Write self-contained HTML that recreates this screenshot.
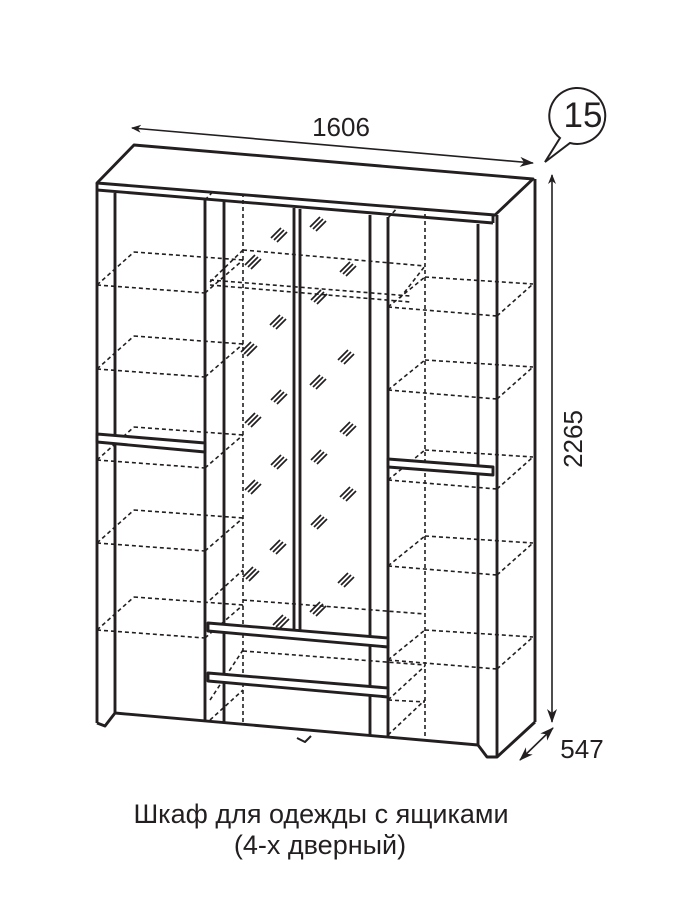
<!DOCTYPE html>
<html><head><meta charset="utf-8"><style>
html,body{margin:0;padding:0;background:#fff;}
svg{display:block;}
text{font-family:"Liberation Sans",sans-serif;fill:#231f20;}
</style></head><body>
<svg width="700" height="902" viewBox="0 0 700 902" xmlns="http://www.w3.org/2000/svg">
<defs>
<marker id="ah" markerWidth="10" markerHeight="8" refX="9" refY="4" orient="auto" markerUnits="userSpaceOnUse"><path d="M0,0 L10,4 L0,8 L3,4 Z" fill="#231f20"/></marker>
<marker id="ah2" markerWidth="14" markerHeight="10" refX="13" refY="5" orient="auto-start-reverse" markerUnits="userSpaceOnUse"><path d="M0,0 L14,5 L0,10 L4,5 Z" fill="#231f20"/></marker>
<g id="hat" stroke="#231f20" stroke-width="1.7"><line x1="-7" y1="5" x2="3" y2="-5"/><line x1="-4" y1="7" x2="6" y2="-3"/><line x1="-1" y1="9" x2="9" y2="-1"/></g>
</defs>

<g stroke="#231f20" stroke-width="1.6" stroke-dasharray="4,3" fill="none">
  <line x1="243" y1="158" x2="243" y2="722"/>
  <line x1="425" y1="172" x2="425" y2="738"/>
  <line x1="205" y1="200" x2="243" y2="160"/>
  <line x1="388" y1="218" x2="425" y2="178"/>
  <g id="ls">
    <line x1="97" y1="285" x2="205" y2="293"/>
    <line x1="134" y1="252" x2="243" y2="260"/>
    <line x1="97" y1="285" x2="134" y2="252"/>
    <line x1="205" y1="293" x2="243" y2="260"/>
  </g>
  <use href="#ls" y="84"/><use href="#ls" y="175"/><use href="#ls" y="258"/><use href="#ls" y="345"/>
  <g id="rs">
    <line x1="388" y1="307" x2="497" y2="316"/>
    <line x1="425" y1="277" x2="533" y2="284"/>
    <line x1="388" y1="307" x2="425" y2="277"/>
    <line x1="497" y1="316" x2="533" y2="284"/>
  </g>
  <use href="#rs" y="83"/><use href="#rs" y="173"/><use href="#rs" y="259"/><use href="#rs" y="353"/>
  <line x1="243" y1="250" x2="425" y2="266"/>
  <line x1="210" y1="280" x2="410" y2="296"/>
  <line x1="210" y1="285" x2="410" y2="302"/>
  <line x1="210" y1="282" x2="243" y2="250"/>
  <line x1="400" y1="298" x2="425" y2="266"/>
  <line x1="210" y1="600" x2="243" y2="570"/>
  <line x1="243" y1="600" x2="425" y2="614"/>
  <line x1="210" y1="700" x2="243" y2="650"/>
  <line x1="243" y1="651" x2="425" y2="665"/>
  <line x1="210" y1="720" x2="243" y2="690"/>
  <line x1="388" y1="700" x2="425" y2="666"/>
  <line x1="388" y1="735" x2="425" y2="700"/>
  <line x1="388" y1="700" x2="425" y2="702"/>
</g>

<g>
<use href="#hat" x="317" y="222"/><use href="#hat" x="278" y="233"/><use href="#hat" x="252" y="260"/>
<use href="#hat" x="347" y="267"/><use href="#hat" x="318" y="295"/><use href="#hat" x="277" y="320"/>
<use href="#hat" x="248" y="347"/><use href="#hat" x="345" y="355"/><use href="#hat" x="317" y="380"/>
<use href="#hat" x="278" y="395"/><use href="#hat" x="252" y="418"/><use href="#hat" x="347" y="427"/>
<use href="#hat" x="318" y="455"/><use href="#hat" x="278" y="460"/><use href="#hat" x="252" y="485"/>
<use href="#hat" x="347" y="492"/><use href="#hat" x="318" y="520"/><use href="#hat" x="277" y="545"/>
<use href="#hat" x="250" y="572"/><use href="#hat" x="345" y="578"/><use href="#hat" x="317" y="607"/>
<use href="#hat" x="280" y="620"/>
</g>

<g stroke="#231f20" stroke-width="2.9" fill="none" stroke-linejoin="round">
  <polygon points="97,183 134,145 533,179 495,215" fill="#fff"/>
  <line x1="97" y1="190" x2="493" y2="223"/>
  <line x1="493" y1="215" x2="493" y2="223"/>
  <line x1="97" y1="183" x2="97" y2="723"/>
  <line x1="115" y1="193" x2="115" y2="713"/>
  <polyline points="97,723 105,726 115,713"/>
  <line x1="497" y1="215" x2="497" y2="757"/>
  <line x1="478" y1="224" x2="478" y2="745"/>
  <line x1="535" y1="179" x2="535" y2="722"/>
  <polyline points="478,745 487,757 497,757 535,722"/>
  <line x1="115" y1="713" x2="478" y2="745"/>
  <polyline points="297,738 305,742 311,736" stroke-width="2"/>
  <line x1="205" y1="200" x2="205" y2="721"/>
  <line x1="224" y1="202" x2="224" y2="723"/>
  <line x1="294" y1="208" x2="294" y2="630"/>
  <line x1="300" y1="209" x2="300" y2="631"/>
  <line x1="370" y1="215" x2="370" y2="736"/>
  <line x1="388" y1="217" x2="388" y2="737"/>
  <polygon points="97,434 205,443 205,452 97,442" fill="#fff"/>
  <polygon points="388,459 493,467 493,475 388,467" fill="#fff"/>
  <polygon points="208,623 388,638 388,647 208,631" fill="#fff"/>
  <polygon points="208,673 388,688 388,697 208,681" fill="#fff"/>
</g>

<g stroke="#231f20" stroke-width="1.6" fill="none">
  <line x1="533" y1="163" x2="132" y2="128" marker-end="url(#ah)" marker-start="url(#ah2)"/>
  <line x1="552" y1="722" x2="552" y2="175" marker-end="url(#ah)" marker-start="url(#ah2)"/>
  <line x1="520" y1="760" x2="553" y2="728" marker-end="url(#ah2)" marker-start="url(#ah2)"/>
  <path d="M560,138 A28,28 0 1 1 570,143 L545,162 Z" fill="#fff" stroke-width="2"/>
</g>
<text x="341" y="136" font-size="26" text-anchor="middle">1606</text>
<text x="583" y="127" font-size="35" text-anchor="middle">15</text>
<text transform="translate(582,439) rotate(-90)" font-size="26" text-anchor="middle">2265</text>
<text x="582" y="758" font-size="26" text-anchor="middle">547</text>
<text x="321" y="823" font-size="27" text-anchor="middle">Шкаф для одежды с ящиками</text>
<text x="320" y="854" font-size="27" text-anchor="middle">(4-х дверный)</text>
</svg>
</body></html>
